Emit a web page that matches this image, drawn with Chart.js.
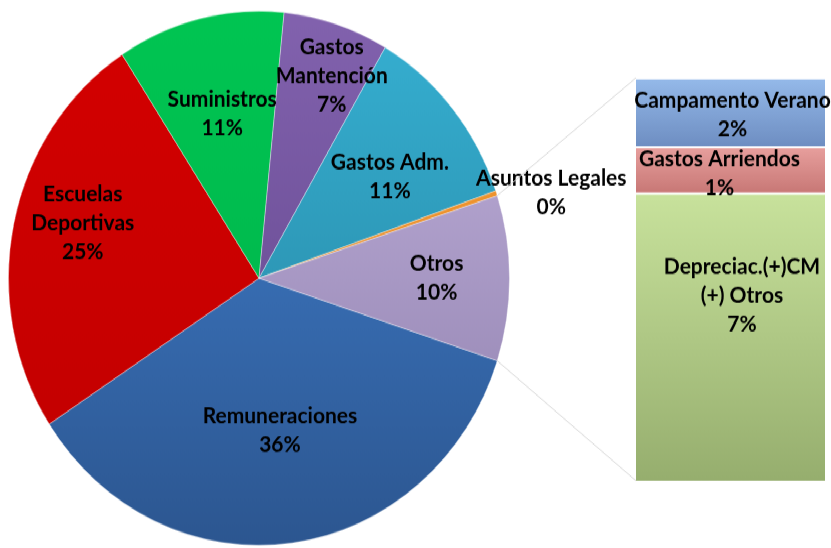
<!DOCTYPE html>
<html>
<head>
<meta charset="utf-8">
<script src="https://cdn.jsdelivr.net/npm/chart.js@4.4.1/dist/chart.umd.min.js"></script>
<style>
  html, body { margin: 0; padding: 0; background: #fff; }
  body { width: 831px; height: 548px; overflow: hidden; }
  #wrap { position: relative; width: 831px; height: 514px; transform: scaleY(1.0661); transform-origin: 0 0; }
  #wrap canvas { position: absolute; left: 0; top: 0; }
</style>
</head>
<body>
<div id="wrap">
  <canvas id="pie-chart" width="831" height="514"></canvas>
  <canvas id="bar-chart" width="831" height="514"></canvas>
</div>
<script>
// Pie slices (clockwise, starting after the "Otros" slice)
const sliceNames = ['Remuneraciones', 'Escuelas Deportivas', 'Suministros', 'Gastos Mantención', 'Gastos Adm.', 'Asuntos Legales', 'Otros'];
const sliceLines = [['Remuneraciones'], ['Escuelas', 'Deportivas'], ['Suministros'], ['Gastos', 'Mantención'], ['Gastos Adm.'], ['Asuntos Legales'], ['Otros']];
const sliceValues = [35.8, 25.0, 10.8, 6.8, 11.3, 0.3, 10.0];

// Breakdown of "Otros" (stacked bottom to top)
const barNames = ['Depreciac.(+)CM (+) Otros', 'Gastos Arriendos', 'Campamento Verano'];
const barLines = [['Depreciac.(+)CM', '(+) Otros'], ['Gastos Arriendos'], ['Campamento Verano']];
const barValues = [7.15, 1.15, 1.7];

const total = sliceValues.reduce((a, b) => a + b, 0);
const pct = v => Math.round(v / total * 100) + '%';

// styles
const FONT = 'bold 21px Lato, "Open Sans", sans-serif';
const LINE_H = 27;
const sliceColors = [
    ['#4282d2', '#2c5690'],
    ['#d40000', '#c00000'],
    ['#00c552', '#00b04a'],
    ['#8262ae', '#5e4388'],
    ['#36b0d2', '#25809c'],
    ['#f59a30', '#e0862a'],
    ['#c2b3dd', '#8d7dab']
];
// label placement: [radius fraction, angle offset in degrees]
const sliceLabelPos = [[0.576, -0.8], [0.733, 4.4], [0.635, 0.3], [0.81, 3], [0.645, 3.5], [1.21, 3.2], [0.709, 0]];
const barColors = [
    ['#c8e29c', '#96ae6e'],
    ['#e8a09e', '#c87876'],
    ['#95baea', '#6e8ec2']
];
// label offsets from segment centre: [dx, dy]
const barLabelPos = [[11.5, -38.5], [-11, 3.6], [2, 3]];

function drawLines(ctx, lines, x, y) {
    const top = y - (lines.length - 1) * LINE_H / 2;
    lines.forEach((t, i) => ctx.fillText(t, x, top + i * LINE_H));
}

const pieLabels = {
    id: 'pieLabels',
    afterDatasetsDraw(chart) {
        const ctx = chart.ctx;
        const arcs = chart.getDatasetMeta(0).data;
        ctx.save();
        ctx.font = FONT;
        ctx.fillStyle = '#000';
        ctx.textAlign = 'center';
        ctx.textBaseline = 'middle';
        arcs.forEach((arc, i) => {
            const [f, off] = sliceLabelPos[i];
            const a = (arc.startAngle + arc.endAngle) / 2 + off * Math.PI / 180;
            const r = arc.outerRadius * f;
            drawLines(ctx, sliceLines[i].concat(pct(sliceValues[i])), arc.x + r * Math.cos(a), arc.y + r * Math.sin(a));
        });
        ctx.restore();
    }
};

const pieChart = new Chart(document.getElementById('pie-chart'), {
    type: 'pie',
    data: {
        labels: sliceNames,
        datasets: [{
            data: sliceValues,
            backgroundColor: (c) => {
                const area = c.chart.chartArea;
                const col = sliceColors[c.dataIndex];
                if (!area || !col) return '#888';
                const g = c.chart.ctx.createLinearGradient(0, area.top, 0, area.bottom);
                g.addColorStop(0, col[0]);
                g.addColorStop(1, col[1]);
                return g;
            },
            borderColor: 'rgba(255,255,255,0.35)',
            borderWidth: 1
        }]
    },
    options: {
        responsive: false,
        animation: false,
        rotation: 108,
        layout: { padding: { left: 8, top: 10, right: 321, bottom: 2 } },
        plugins: { legend: { display: false }, tooltip: { enabled: false } }
    },
    plugins: [pieLabels]
});

const barExtras = {
    id: 'barExtras',
    beforeDatasetsDraw(chart) {
        // connector lines from the "Otros" slice to the bar
        const arc = pieChart.getDatasetMeta(0).data[sliceValues.length - 1];
        const topBar = chart.getDatasetMeta(barValues.length - 1).data[0];
        const botBar = chart.getDatasetMeta(0).data[0];
        const left = topBar.x - topBar.width / 2;
        const ctx = chart.ctx;
        ctx.save();
        ctx.strokeStyle = '#d9d9d9';
        ctx.lineWidth = 1;
        ctx.beginPath();
        ctx.moveTo(arc.x + arc.outerRadius * Math.cos(arc.startAngle), arc.y + arc.outerRadius * Math.sin(arc.startAngle));
        ctx.lineTo(left, topBar.y);
        ctx.moveTo(arc.x + arc.outerRadius * Math.cos(arc.endAngle), arc.y + arc.outerRadius * Math.sin(arc.endAngle));
        ctx.lineTo(left, botBar.base);
        ctx.stroke();
        ctx.restore();
    },
    afterDatasetsDraw(chart) {
        const ctx = chart.ctx;
        ctx.save();
        ctx.font = FONT;
        ctx.fillStyle = '#000';
        ctx.textAlign = 'center';
        ctx.textBaseline = 'middle';
        barValues.forEach((v, i) => {
            const bar = chart.getDatasetMeta(i).data[0];
            const [dx, dy] = barLabelPos[i];
            drawLines(ctx, barLines[i].concat(pct(v)), bar.x + dx, (bar.y + bar.base) / 2 + dy);
        });
        ctx.restore();
    }
};

new Chart(document.getElementById('bar-chart'), {
    type: 'bar',
    data: {
        labels: ['Otros'],
        datasets: barValues.map((v, i) => ({
            label: barNames[i],
            data: [v],
            backgroundColor: (c) => {
                const y = c.chart.scales.y;
                if (!c.chart.chartArea || !y) return barColors[i][0];
                const start = barValues.slice(0, i).reduce((a, b) => a + b, 0);
                const g = c.chart.ctx.createLinearGradient(0, y.getPixelForValue(start + v), 0, y.getPixelForValue(start));
                g.addColorStop(0, barColors[i][0]);
                g.addColorStop(1, barColors[i][1]);
                return g;
            },
            borderColor: 'rgba(255,255,255,0.45)',
            borderWidth: { top: 2 },
            borderSkipped: false,
            barPercentage: 1,
            categoryPercentage: 1
        }))
    },
    options: {
        responsive: false,
        animation: false,
        layout: { padding: { left: 636, top: 73, right: 6, bottom: 63 } },
        scales: {
            x: { display: false, stacked: true },
            y: { display: false, stacked: true, min: 0, max: barValues.reduce((a, b) => a + b, 0) }
        },
        plugins: { legend: { display: false }, tooltip: { enabled: false } }
    },
    plugins: [barExtras]
});
</script>
</body>
</html>
